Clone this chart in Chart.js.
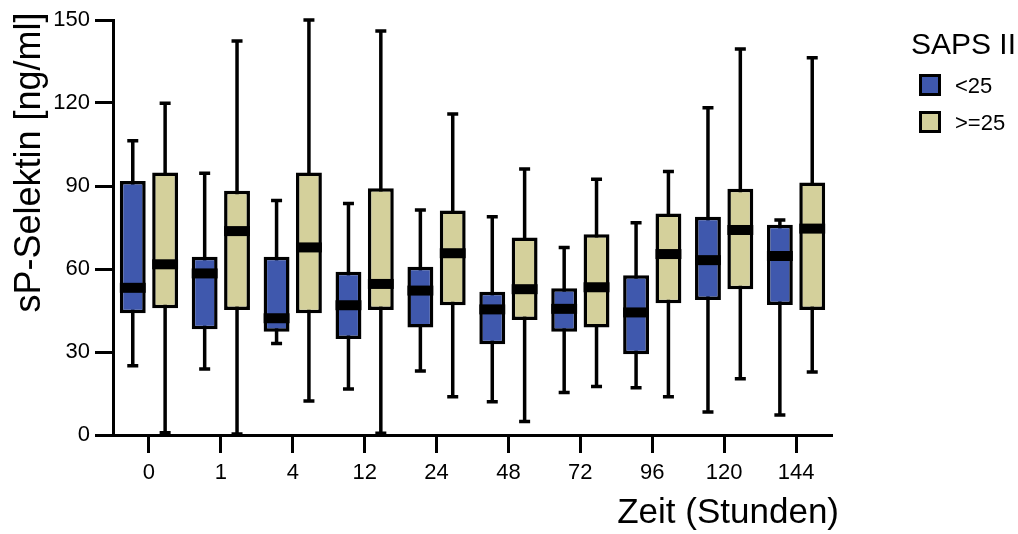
<!DOCTYPE html>
<html>
<head>
<meta charset="utf-8">
<script src="https://cdn.jsdelivr.net/npm/chart.js@4.4.1/dist/chart.umd.min.js"></script>
<style>
  html, body { margin: 0; padding: 0; background: #ffffff; }
  #wrap { width: 1018px; height: 534px; position: relative; }
</style>
</head>
<body>
<div id="wrap"><canvas id="c" width="1018" height="534"></canvas></div>
<script>
// ---- Data ----
const categories = ['0', '1', '4', '12', '24', '48', '72', '96', '120', '144'];
const yTicks = [0, 30, 60, 90, 120, 150];

// SAPS II < 25
const lowMin = [25.0, 23.9, 33.1, 16.6, 23.1, 12.0, 15.4, 17.1, 8.3, 7.2];
const lowQ1  = [44.0, 38.2, 37.3, 34.7, 38.9, 32.8, 37.3, 29.2, 48.8, 47.0];
const lowMed = [53.2, 58.4, 42.2, 46.9, 52.2, 45.4, 45.6, 44.3, 63.2, 64.7];
const lowQ3  = [91.8, 64.4, 64.4, 59.0, 60.8, 51.8, 53.0, 57.7, 78.9, 76.0];
const lowMax = [106.4, 94.6, 84.8, 83.7, 81.3, 78.9, 67.8, 76.7, 118.3, 77.7];

// SAPS II >= 25
const highMin = [0.8, 0.4, 12.3, 0.6, 13.8, 4.9, 17.5, 13.8, 20.3, 22.8];
const highQ1  = [45.8, 45.2, 44.0, 45.2, 46.9, 41.6, 38.9, 47.6, 52.7, 45.2];
const highMed = [61.7, 73.7, 67.8, 54.6, 65.7, 52.7, 53.4, 65.4, 74.1, 74.6];
const highQ3  = [94.9, 88.3, 94.9, 89.2, 81.1, 71.4, 72.6, 80.1, 89.0, 91.3];
const highMax = [119.9, 142.4, 150.0, 146.0, 116.0, 96.1, 92.4, 95.2, 139.5, 136.4];

const seriesLabels = ['<25', '>=25'];
const legendTitle = 'SAPS II';
const xTitle = 'Zeit (Stunden)';
const yTitle = 'sP-Selektin [ng/ml]';

const FONT = '"Liberation Sans", Arial, Helvetica, sans-serif';
const BLUE = '#3f58ad';
const KHAKI = '#d4d09b';

const stats = [
  { min: lowMin, med: lowMed, max: lowMax },
  { min: highMin, med: highMed, max: highMax }
];

const boxPlugin = {
  id: 'boxWhisker',
  beforeDatasetsDraw(chart) {
    const ctx = chart.ctx;
    const y = chart.scales.y;
    ctx.save();
    ctx.strokeStyle = '#000';
    ctx.lineWidth = 3.5;
    ctx.lineCap = 'butt';
    chart.data.datasets.forEach((ds, d) => {
      const meta = chart.getDatasetMeta(d);
      meta.data.forEach((el, i) => {
        const x = el.x;
        const yLo = y.getPixelForValue(stats[d].min[i]);
        const yHi = y.getPixelForValue(stats[d].max[i]);
        ctx.beginPath();
        ctx.moveTo(x, yLo); ctx.lineTo(x, yHi);
        ctx.stroke();
        ctx.beginPath();
        ctx.moveTo(x - 5.5, yLo); ctx.lineTo(x + 5.5, yLo);
        ctx.moveTo(x - 5.5, yHi); ctx.lineTo(x + 5.5, yHi);
        ctx.stroke();
      });
    });
    ctx.restore();
  },
  afterDatasetsDraw(chart) {
    const ctx = chart.ctx;
    const y = chart.scales.y;
    ctx.save();
    ctx.fillStyle = '#000';
    chart.data.datasets.forEach((ds, d) => {
      const meta = chart.getDatasetMeta(d);
      meta.data.forEach((el, i) => {
        const ym = y.getPixelForValue(stats[d].med[i]);
        ctx.fillRect(el.x - el.width / 2, ym - 5, el.width, 10);
      });
    });
    ctx.restore();
  },
  afterDraw(chart) {
    const ctx = chart.ctx;
    const area = chart.chartArea;
    ctx.save();
    ctx.fillStyle = '#000';
    // y title
    ctx.font = '36px ' + FONT;
    ctx.textAlign = 'center';
    ctx.textBaseline = 'alphabetic';
    ctx.save();
    ctx.translate(40, 162.5);
    ctx.rotate(-Math.PI / 2);
    ctx.fillText(yTitle, 0, 0);
    ctx.restore();
    // x title
    ctx.font = '35px ' + FONT;
    ctx.textAlign = 'right';
    ctx.fillText(xTitle, area.right + 7, 523);
    // legend
    ctx.textAlign = 'left';
    ctx.font = '30px ' + FONT;
    ctx.fillText(legendTitle, 911, 54);
    ctx.font = '22px ' + FONT;
    chart.data.datasets.forEach((ds, d) => {
      const top = 74 + d * 37;
      ctx.fillStyle = ds.backgroundColor;
      ctx.fillRect(919, top, 22, 22);
      ctx.strokeStyle = '#000';
      ctx.lineWidth = 3;
      ctx.strokeRect(920.5, top + 1.5, 19, 19);
      ctx.fillStyle = '#000';
      ctx.fillText(ds.label, 955, top + 19);
    });
    ctx.restore();
  }
};

new Chart(document.getElementById('c'), {
  type: 'bar',
  data: {
    labels: categories,
    datasets: [
      {
        label: seriesLabels[0],
        data: lowQ1.map((v, i) => [v, lowQ3[i]]),
        backgroundColor: BLUE,
        borderColor: '#000',
        borderWidth: 3.5,
        borderSkipped: false
      },
      {
        label: seriesLabels[1],
        data: highQ1.map((v, i) => [v, highQ3[i]]),
        backgroundColor: KHAKI,
        borderColor: '#000',
        borderWidth: 3.5,
        borderSkipped: false
      }
    ]
  },
  options: {
    responsive: false,
    animation: false,
    devicePixelRatio: 1,
    layout: { padding: { top: 20, right: 186, left: 0, bottom: 0 } },
    categoryPercentage: 0.9,
    barPercentage: 0.8,
    plugins: {
      legend: { display: false },
      tooltip: { enabled: false },
      title: { display: false }
    },
    scales: {
      x: {
        type: 'category',
        offset: true,
        grid: {
          display: true,
          offset: false,
          drawOnChartArea: false,
          drawTicks: true,
          tickLength: 18,
          tickWidth: 3,
          tickColor: '#000'
        },
        border: { display: true, color: '#000', width: 3 },
        ticks: {
          color: '#000',
          font: { family: FONT, size: 22 },
          padding: 7,
          maxRotation: 0,
          autoSkip: false
        },
        afterFit(scale) { scale.height = 99; }
      },
      y: {
        min: 0,
        max: 150,
        afterBuildTicks(scale) { scale.ticks = yTicks.map(v => ({ value: v })); },
        grid: {
          display: true,
          drawOnChartArea: false,
          drawTicks: true,
          tickLength: 18,
          tickWidth: 3,
          tickColor: '#000'
        },
        border: { display: true, color: '#000', width: 3 },
        ticks: {
          color: '#000',
          font: { family: FONT, size: 22 },
          padding: 5
        },
        afterFit(scale) { scale.width = 113; }
      }
    }
  },
  plugins: [boxPlugin]
});
</script>
</body>
</html>
